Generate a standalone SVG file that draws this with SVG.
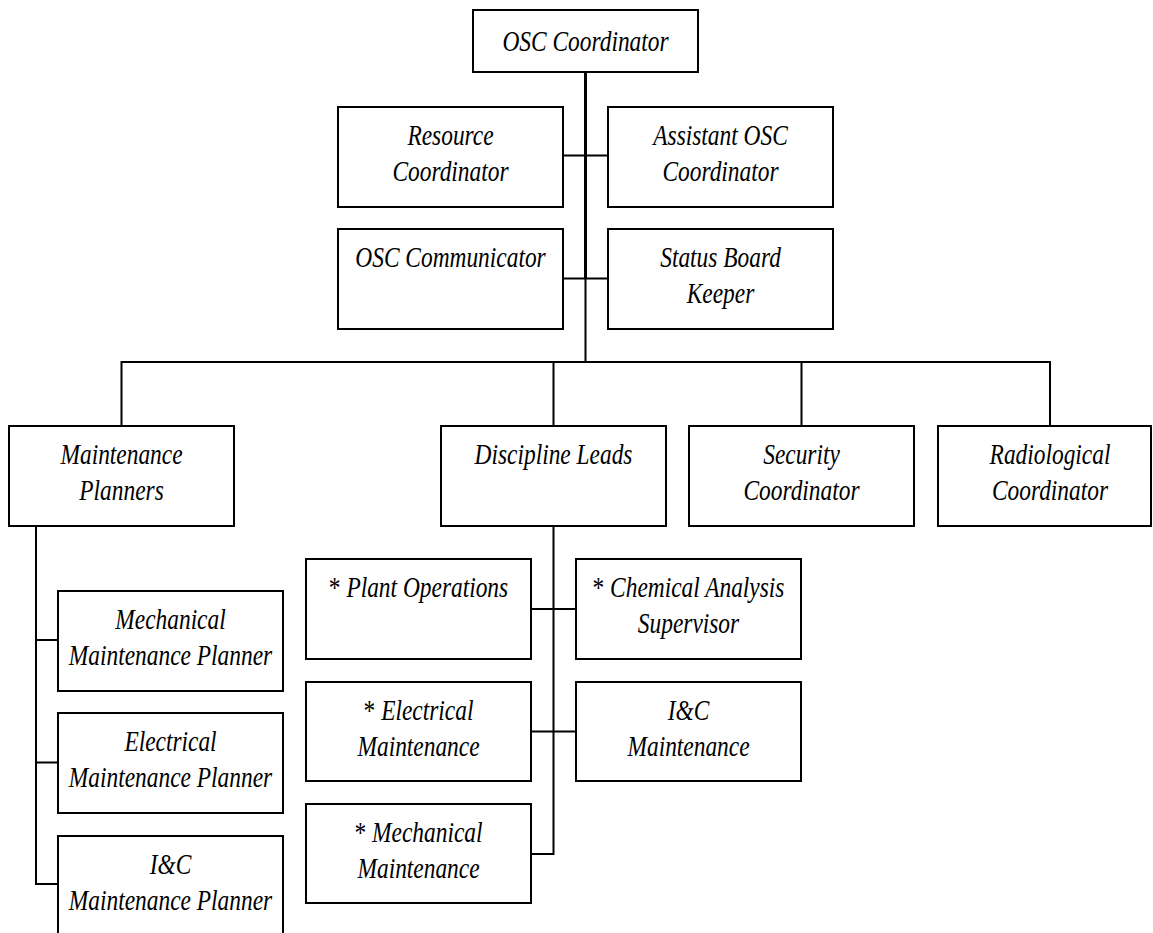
<svg xmlns="http://www.w3.org/2000/svg" width="1153" height="933" viewBox="0 0 1153 933">
<style>
.box{fill:#fff;stroke:#000;stroke-width:2}
.t{font-family:"Liberation Serif","Times New Roman",serif;font-style:italic;font-size:30px;text-anchor:middle;fill:#000}
.a{font-style:normal}
.c{stroke:#000;stroke-width:2;fill:none}
</style>
<rect width="1153" height="933" fill="#fff"/>
<g id="connectors">
<path class="c" d="M585.5 72V279" style="stroke-width:3"/>
<path class="c" d="M585.5 279V362M563 155.5H608M563 278.5H608"/>
<path class="c" d="M121.5 426V362H1050V426M553.5 362V426M801.5 362V426"/>
<path class="c" d="M36 526V884H58M36 640H58M36 762.5H58"/>
<path class="c" d="M553.5 526V854H531M531 609H576M531 731.5H576"/>
</g>
<g id="osc-coordinator"><rect class="box" x="473" y="10" width="225" height="62"/><text class="t" transform="translate(585.5,51) scale(0.78,1)">OSC Coordinator</text></g>
<g id="resource-coordinator"><rect class="box" x="338" y="107" width="225" height="100"/><text class="t" transform="translate(450.5,144.5) scale(0.78,1)"><tspan x="0">Resource</tspan><tspan x="0" dy="36.5">Coordinator</tspan></text></g>
<g id="assistant-osc-coordinator"><rect class="box" x="608" y="107" width="225" height="100"/><text class="t" transform="translate(720.5,144.5) scale(0.78,1)"><tspan x="0">Assistant OSC</tspan><tspan x="0" dy="36.5">Coordinator</tspan></text></g>
<g id="osc-communicator"><rect class="box" x="338" y="229" width="225" height="100"/><text class="t" transform="translate(450.5,266.5) scale(0.78,1)">OSC Communicator</text></g>
<g id="status-board-keeper"><rect class="box" x="608" y="229" width="225" height="100"/><text class="t" transform="translate(720.5,266.5) scale(0.78,1)"><tspan x="0">Status Board</tspan><tspan x="0" dy="36.5">Keeper</tspan></text></g>
<g id="maintenance-planners"><rect class="box" x="9" y="426" width="225" height="100"/><text class="t" transform="translate(121.5,463.5) scale(0.78,1)"><tspan x="0">Maintenance</tspan><tspan x="0" dy="36.5">Planners</tspan></text></g>
<g id="discipline-leads"><rect class="box" x="441" y="426" width="225" height="100"/><text class="t" transform="translate(553.5,463.5) scale(0.78,1)">Discipline Leads</text></g>
<g id="security-coordinator"><rect class="box" x="689" y="426" width="225" height="100"/><text class="t" transform="translate(801.5,463.5) scale(0.78,1)"><tspan x="0">Security</tspan><tspan x="0" dy="36.5">Coordinator</tspan></text></g>
<g id="radiological-coordinator"><rect class="box" x="938" y="426" width="213" height="100"/><text class="t" transform="translate(1050,463.5) scale(0.78,1)"><tspan x="0">Radiological</tspan><tspan x="0" dy="36.5">Coordinator</tspan></text></g>
<g id="mechanical-maintenance-planner"><rect class="box" x="58" y="591" width="225" height="100"/><text class="t" transform="translate(170.5,628.5) scale(0.78,1)"><tspan x="0">Mechanical</tspan><tspan x="0" dy="36.5">Maintenance Planner</tspan></text></g>
<g id="electrical-maintenance-planner"><rect class="box" x="58" y="713" width="225" height="100"/><text class="t" transform="translate(170.5,750.5) scale(0.78,1)"><tspan x="0">Electrical</tspan><tspan x="0" dy="36.5">Maintenance Planner</tspan></text></g>
<g id="ic-maintenance-planner"><rect class="box" x="58" y="836" width="225" height="100"/><text class="t" transform="translate(170.5,873.5) scale(0.78,1)"><tspan x="0">I&amp;C</tspan><tspan x="0" dy="36.5">Maintenance Planner</tspan></text></g>
<g id="plant-operations"><rect class="box" x="306" y="559" width="225" height="100"/><text class="t" transform="translate(418.5,596.5) scale(0.78,1)"><tspan class="a">* </tspan>Plant Operations</text></g>
<g id="chemical-analysis-supervisor"><rect class="box" x="576" y="559" width="225" height="100"/><text class="t" transform="translate(688.5,596.5) scale(0.78,1)"><tspan x="0"><tspan class="a">* </tspan>Chemical Analysis</tspan><tspan x="0" dy="36.5">Supervisor</tspan></text></g>
<g id="electrical-maintenance"><rect class="box" x="306" y="682" width="225" height="99"/><text class="t" transform="translate(418.5,719.5) scale(0.78,1)"><tspan x="0"><tspan class="a">* </tspan>Electrical</tspan><tspan x="0" dy="36.5">Maintenance</tspan></text></g>
<g id="ic-maintenance"><rect class="box" x="576" y="682" width="225" height="99"/><text class="t" transform="translate(688.5,719.5) scale(0.78,1)"><tspan x="0">I&amp;C</tspan><tspan x="0" dy="36.5">Maintenance</tspan></text></g>
<g id="mechanical-maintenance"><rect class="box" x="306" y="804" width="225" height="99"/><text class="t" transform="translate(418.5,841.5) scale(0.78,1)"><tspan x="0"><tspan class="a">* </tspan>Mechanical</tspan><tspan x="0" dy="36.5">Maintenance</tspan></text></g>
</svg>
